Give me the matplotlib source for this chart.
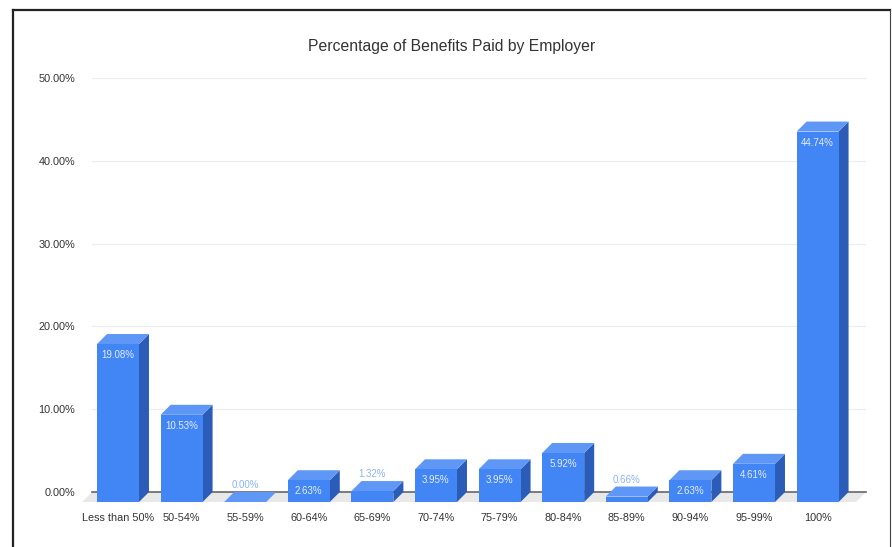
import matplotlib.pyplot as plt
import matplotlib.transforms as mtransforms
from matplotlib.patches import Polygon
from matplotlib.lines import Line2D
import numpy as np

plt.rcParams['font.family'] = ['Liberation Sans', 'DejaVu Sans']

categories = ['Less than 50%', '50-54%', '55-59%', '60-64%', '65-69%', '70-74%',
              '75-79%', '80-84%', '85-89%', '90-94%', '95-99%', '100%']
shares = [19.08, 10.53, 0.00, 2.63, 1.32, 3.95, 3.95, 5.92, 0.66, 2.63, 4.61, 44.74]
yticks = [0, 10, 20, 30, 40, 50]

front_color = '#4285f4'
top_color = '#5e97f6'
side_color = '#2b5db8'
bar_w = 0.66
depth_px = 10  # how far the bar fronts sit in front of the back wall

fig = plt.figure(figsize=(8.92, 5.47), dpi=100)
ax = fig.add_axes([92 / 892, 55 / 547, 774 / 892, 414 / 547])
ax.set_xlim(-0.566, 11.604)
ax.set_ylim(0, 50)

# depth offset converted to data units
inv = ax.transData.inverted()
p0 = ax.transData.transform((0, 0))
ddx, ddy = inv.transform(p0 + depth_px) - np.array([0, 0])

# floor of the 3d box
x0, x1 = ax.get_xlim()
ax.add_patch(Polygon([(x0 - ddx, -ddy), (x1 - ddx, -ddy), (x1, 0), (x0, 0)],
                     closed=True, facecolor='#e8e8e8', edgecolor='none',
                     clip_on=False, zorder=1))
ax.plot([x0, x1], [0, 0], color='#666666', lw=1.2, zorder=2, clip_on=False)

for i, v in enumerate(shares):
    xl, xr = i - bar_w / 2, i + bar_w / 2
    fl, fr = xl - ddx, xr - ddx
    side = [(fr, -ddy), (xr, 0), (xr, v), (fr, v - ddy)]
    top = [(fl, v - ddy), (fr, v - ddy), (xr, v), (xl, v)]
    front = [(fl, -ddy), (fr, -ddy), (fr, v - ddy), (fl, v - ddy)]
    for pts, c in [(side, side_color), (top, top_color), (front, front_color)]:
        ax.add_patch(Polygon(pts, closed=True, facecolor=c, edgecolor='none',
                             clip_on=False, zorder=3))
    if v >= 2:
        ax.annotate(f'{v:.2f}%', xy=(i - ddx, v - ddy), xytext=(0, -8),
                    textcoords='offset points', ha='center', va='center',
                    fontsize=7, color='#e4edfd', zorder=4, annotation_clip=False)
    else:
        ax.annotate(f'{v:.2f}%', xy=(i - ddx, v - ddy), xytext=(0, 12),
                    textcoords='offset points', ha='center', va='center',
                    fontsize=7, color='#8cb2f3', zorder=4, annotation_clip=False)

ax.set_yticks(yticks)
ax.set_yticklabels([f'{t:.2f}%' for t in yticks])
ax.set_xticks(range(len(categories)))
ax.set_xticklabels(categories)
ax.tick_params(axis='both', length=0, labelsize=7.8, colors='#333333')
ax.tick_params(axis='y', pad=12)
ax.tick_params(axis='x', pad=8)
shift = mtransforms.ScaledTranslation(-depth_px / 100, -depth_px / 100, fig.dpi_scale_trans)
for lbl in ax.get_xticklabels():
    lbl.set_transform(lbl.get_transform() + shift)

ax.yaxis.grid(True, color='#ececec', lw=0.8)
ax.set_axisbelow(True)
for s in ax.spines.values():
    s.set_visible(False)

fig.text(452 / 892, 1 - 46 / 547, 'Percentage of Benefits Paid by Employer',
         ha='center', va='center', fontsize=11.3, color='#333333')

# frame around the chart
fig.add_artist(Line2D([12.5 / 892, 12.5 / 892], [0, 1 - 9.5 / 547], color='#222222', lw=1.6))
fig.add_artist(Line2D([12.5 / 892, 890 / 892], [1 - 9.5 / 547, 1 - 9.5 / 547], color='#222222', lw=1.6))
fig.add_artist(Line2D([890 / 892, 890 / 892], [0, 1 - 9.5 / 547], color='#444444', lw=0.8))

fig.savefig('out.png', dpi=100)
